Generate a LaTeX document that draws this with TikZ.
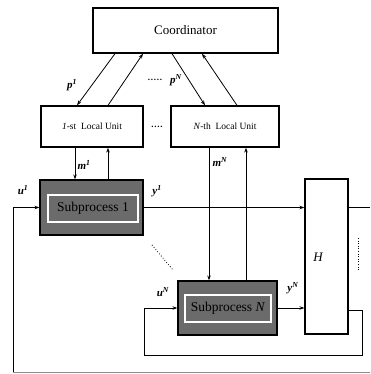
\documentclass[tikz,border=0pt]{standalone}
\usepackage{fontspec}
\setmainfont{Liberation Serif}
\usetikzlibrary{arrows.meta,calc}
\newcommand{\lbl}[2]{\textbf{\textit{#1}}\textsuperscript{\textbf{\textit{#2}}}}
\begin{document}
\begin{tikzpicture}[x=1pt,y=-1pt,
  box/.style={draw,line width=1.3pt,inner sep=0pt,fill=white},
  subbox/.style={draw=black,line width=1.2pt,fill=black!58,inner sep=0pt},
  arr/.style={line width=0.8pt,-{Stealth[length=5pt,width=3.5pt]}},
  ln/.style={line width=0.8pt},
  lab/.style={inner sep=0pt,font=\fontsize{11}{13}\selectfont},
  dots/.style={inner sep=0pt,font=\fontsize{9}{10}\selectfont\bfseries}]
\useasboundingbox[fill=white] (0,0) rectangle (370,374);
% boxes
\node[box,minimum width=185pt,minimum height=45pt,font=\fontsize{13}{15}\selectfont] (coord) at (185.5,30.5) {Coordinator};
\node[box,minimum width=102pt,minimum height=41pt,font=\fontsize{9.5}{11}\selectfont] (lu1) at (92,126.5) {\textit{1}-st\ \ Local Unit};
\node[box,minimum width=108pt,minimum height=41pt,font=\fontsize{9.5}{11}\selectfont] (luN) at (225,126.5) {\textit{N}-th\ \ Local Unit};
\node[subbox,minimum width=103pt,minimum height=55pt] (sp1) at (91.5,207.5) {};
\node[subbox,minimum width=99pt,minimum height=54pt] (spN) at (227.5,308) {};
\node[box,line width=1.1pt,minimum width=43pt,minimum height=155pt] (H) at (326.5,256.5) {};
\node[inner sep=0pt,font=\fontsize{13}{15}\selectfont\itshape] (hl) at (318,257) {H};
% inner frames and texts of subprocesses
\draw[white,line width=1.2pt] (48,195) rectangle (138,222);
\draw[white,line width=1.2pt] (185,295) rectangle (271,322);
\node[inner sep=0pt,font=\fontsize{13.5}{15}\selectfont] (t1) at (93,208.5) {Subprocess 1};
\node[inner sep=0pt,font=\fontsize{13.5}{15}\selectfont] (tN) at (228,308.5) {Subprocess \textit{N}};
% coordinator <-> local units
\draw[arr] ([xshift=-70.5pt]coord.south) -- ([xshift=-15pt]lu1.north);
\draw[arr] ([xshift=16pt]lu1.north) -- ([xshift=-42.5pt]coord.south);
\draw[arr] ([xshift=-13.5pt]coord.south) -- ([xshift=-20pt]luN.north);
\draw[arr] ([xshift=12pt]luN.north) -- ([xshift=16.5pt]coord.south);
% local units <-> subprocesses
\draw[arr] ([xshift=-17pt]lu1.south) -- ([xshift=-17pt]lu1.south |- sp1.north);
\draw[arr] ([xshift=16pt]lu1.south |- sp1.north) -- ([xshift=16pt]lu1.south);
\draw[arr] ([xshift=-16pt]luN.south) -- ([xshift=-16pt]luN.south |- spN.north);
\draw[arr] ([xshift=21pt]luN.south |- spN.north) -- ([xshift=21pt]luN.south);
% subprocess -> H
\draw[arr] (sp1.east) -- (sp1.east -| H.west);
\draw[arr] (spN.east) -- (spN.east -| H.west);
\coordinate (out1) at (370,207.5);
\draw[ln] (H.east |- sp1.east) -- (out1);
% feedback loop N
\draw[arr] ([yshift=-2pt]H.east |- spN.east) -| ++(14,45) -| ([xshift=-33pt]spN.west) -- (spN.west);
% feedback loop 1
\coordinate (bl) at (13,372);
\coordinate (br) at (370,372);
\draw[line width=0.8pt,black!45] (bl) -- (br);
\draw[arr] (bl) |- (sp1.west);
% dotted marks
\draw[ln,dotted] (152,245) -- (173,270);
\draw[line width=0.6pt,dotted] (358,238) -- (358,270);
% labels
\node[lab] (p1) at (72,85) {\lbl{p}{1}};
\node[lab] (pN) at (176,80) {\lbl{p}{N}};
\node[dots] (d1) at (155,80) {.\kern0.8pt.\kern0.8pt.\kern0.8pt.\kern0.8pt.};
\node[dots] (d2) at (157,127) {.\kern0.8pt.\kern0.8pt.\kern0.8pt.};
\node[lab] (m1) at (84,165) {\lbl{m}{1}};
\node[lab] (mN) at (220,162) {\lbl{m}{N}};
\node[lab] (u1) at (23,190) {\lbl{u}{1}};
\node[lab] (uN) at (163,292) {\lbl{u}{N}};
\node[lab] (y1) at (157,191) {\lbl{y}{1}};
\node[lab] (yN) at (293,288) {\lbl{y}{N}};
\end{tikzpicture}
\end{document}
